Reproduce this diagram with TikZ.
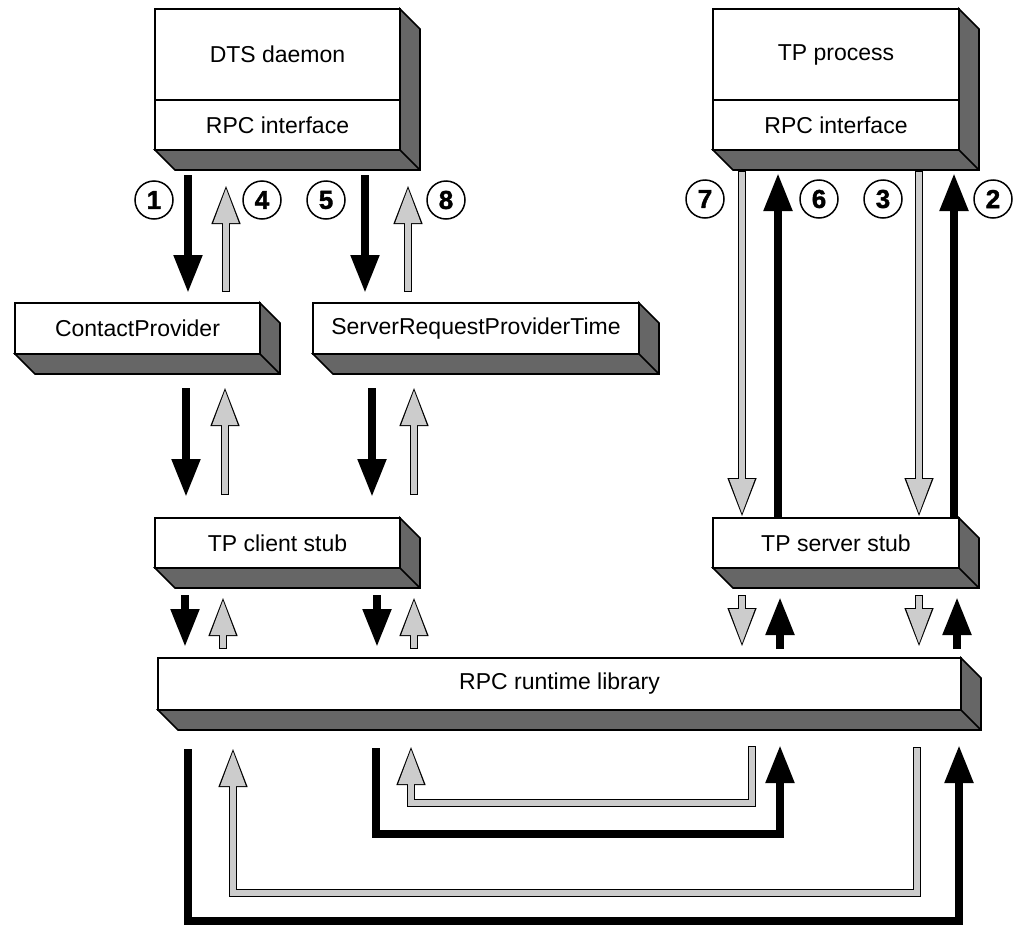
\documentclass[tikz,border=0pt]{standalone}
\usepackage{fontspec}
\setmainfont{Liberation Sans}
\newfontfamily\heavyfont{Liberation Sans}[BoldFeatures={FakeBold=1.5}]
\usetikzlibrary{arrows.meta, positioning}
\definecolor{sidegrey}{HTML}{666666}
\definecolor{shaftgrey}{HTML}{CCCCCC}
\tikzset{
  face/.style={rectangle, draw=black, fill=white, line width=0.8pt, inner sep=0pt, outer sep=0pt, font=\fontsize{11.5pt}{13pt}\selectfont},
  side/.style={draw=black, fill=sidegrey, line width=0.8pt, line join=miter},
  num/.style={circle, draw=black, fill=white, line width=0.75pt, minimum size=19pt, inner sep=0pt, font=\heavyfont\fontsize{13pt}{13pt}\bfseries\selectfont},
  blackarrow/.style={draw=black, line width=4pt, -{Triangle[length=19pt,width=13.5pt]}},
  greyarrow/.style={draw=shaftgrey, line width=2.75pt, shorten <=0.5pt, shorten >=1.5pt, -{Triangle[length=17.5pt,width=12pt]},
    preaction={draw=black, line width=3.75pt, shorten <=0pt, shorten >=0pt, -{Triangle[length=19.5pt,width=13.5pt]}}}
}
% dark side and bottom faces of a box (#1 top node, #2 bottom node)
\newcommand\boxsides[2]{%
  \filldraw[side] (#2.south west) -- ++(20,20) -- ([shift={(20,20)}]#2.south east)
    -- ([shift={(20,20)}]#1.north east) -- (#1.north east) -- (#2.south east) -- cycle;
  \draw[side] (#2.south east) -- ++(20,20);
}
\begin{document}
\begin{tikzpicture}[x=0.5pt, y=-0.5pt]
  \path[use as bounding box, fill=white] (0,0) rectangle (1021,926);

  % boxes
  \node[face, minimum width=122.5pt, minimum height=45.5pt] (dts) at (277.5,54.5) {DTS daemon};
  \node[face, minimum width=122.5pt, minimum height=25pt, below=0pt of dts] (dtsif) {RPC interface};
  \node[face, minimum width=123pt, minimum height=45.5pt] (tpp) at (836,54.5) {TP process};
  \node[face, minimum width=123pt, minimum height=25pt, below=0pt of tpp] (tppif) {RPC interface};
  \node[face, minimum width=122.5pt, minimum height=25.5pt] (contact) at (137.5,328.5) {ContactProvider};
  \node[face, minimum width=163pt, minimum height=25.5pt] (srpt) at (476,328.5) {ServerRequestProviderTime};
  \node[face, minimum width=122.5pt, minimum height=25pt, below=184pt of dtsif] (clstub) {TP client stub};
  \node[face, minimum width=123pt, minimum height=25pt, below=184pt of tppif] (svstub) {TP server stub};
  \node[face, minimum width=401.5pt, minimum height=26pt] (rtl) at (559.5,684) {RPC runtime library};
  \boxsides{dts}{dtsif}
  \boxsides{tpp}{tppif}
  \boxsides{contact}{contact}
  \boxsides{srpt}{srpt}
  \boxsides{clstub}{clstub}
  \boxsides{svstub}{svstub}
  \boxsides{rtl}{rtl}

  % DTS daemon <-> providers
  \draw[blackarrow] ([shift={(33,25)}]dtsif.south west) -- ([shift={(173,-10)}]contact.north west);
  \draw[greyarrow] ([shift={(211,-11)}]contact.north west) -- ([shift={(71,35)}]dtsif.south west);
  \draw[blackarrow] ([shift={(210,25)}]dtsif.south west) -- ([shift={(52,-10)}]srpt.north west);
  \draw[greyarrow] ([shift={(95,-11)}]srpt.north west) -- ([shift={(253,35)}]dtsif.south west);

  % providers <-> client stub
  \draw[blackarrow] ([shift={(171,34)}]contact.south west) -- ([shift={(31,-21)}]clstub.north west);
  \draw[greyarrow] ([shift={(70,-23)}]clstub.north west) -- ([shift={(210,33)}]contact.south west);
  \draw[blackarrow] ([shift={(59,34)}]srpt.south west) -- ([shift={(217,-21)}]clstub.north west);
  \draw[greyarrow] ([shift={(259,-23)}]clstub.north west) -- ([shift={(101,33)}]srpt.south west);

  % client stub <-> runtime
  \draw[blackarrow] ([shift={(30,27)}]clstub.south west) -- ([shift={(27,-11)}]rtl.north west);
  \draw[greyarrow] ([shift={(65,-9)}]rtl.north west) -- ([shift={(68,29)}]clstub.south west);
  \draw[blackarrow] ([shift={(222,27)}]clstub.south west) -- ([shift={(219,-11)}]rtl.north west);
  \draw[greyarrow] ([shift={(256,-9)}]rtl.north west) -- ([shift={(259,29)}]clstub.south west);

  % TP process <-> server stub
  \draw[greyarrow] ([shift={(29,21)}]tppif.south west) -- ([shift={(29,-1)}]svstub.north west);
  \draw[blackarrow] ([shift={(65,0)}]svstub.north west) -- ([shift={(65,23)}]tppif.south west);
  \draw[greyarrow] ([shift={(206,21)}]tppif.south west) -- ([shift={(206,-1)}]svstub.north west);
  \draw[blackarrow] ([shift={(241,0)}]svstub.north west) -- ([shift={(241,23)}]tppif.south west);

  % server stub <-> runtime
  \draw[greyarrow] ([shift={(29,27)}]svstub.south west) -- ([shift={(-219,-11)}]rtl.north east);
  \draw[blackarrow] ([shift={(-181,-9)}]rtl.north east) -- ([shift={(67,29)}]svstub.south west);
  \draw[greyarrow] ([shift={(206,27)}]svstub.south west) -- ([shift={(-42,-11)}]rtl.north east);
  \draw[blackarrow] ([shift={(-4,-9)}]rtl.north east) -- ([shift={(244,29)}]svstub.south west);

  % loops through the runtime
  \draw[greyarrow] ([shift={(-209,36)}]rtl.south east) -- ++(0,57) -| ([shift={(253,36)}]rtl.south west);
  \draw[blackarrow] ([shift={(218,38)}]rtl.south west) -- ++(0,86) -| ([shift={(-181,35)}]rtl.south east);
  \draw[greyarrow] ([shift={(-44,37)}]rtl.south east) -- ++(0,146) -| ([shift={(75,38)}]rtl.south west);
  \draw[blackarrow] ([shift={(30,39)}]rtl.south west) -- ++(0,172) -| ([shift={(-2,35)}]rtl.south east);

  % step numbers
  \node[num] (n1) at (154,200) {1};
  \node[num] (n4) at (262,200) {4};
  \node[num] (n5) at (326,200) {5};
  \node[num] (n8) at (446,200) {8};
  \node[num] (n7) at (705,199) {7};
  \node[num] (n6) at (819,199) {6};
  \node[num] (n3) at (883,199) {3};
  \node[num] (n2) at (993,199) {2};
\end{tikzpicture}
\end{document}
